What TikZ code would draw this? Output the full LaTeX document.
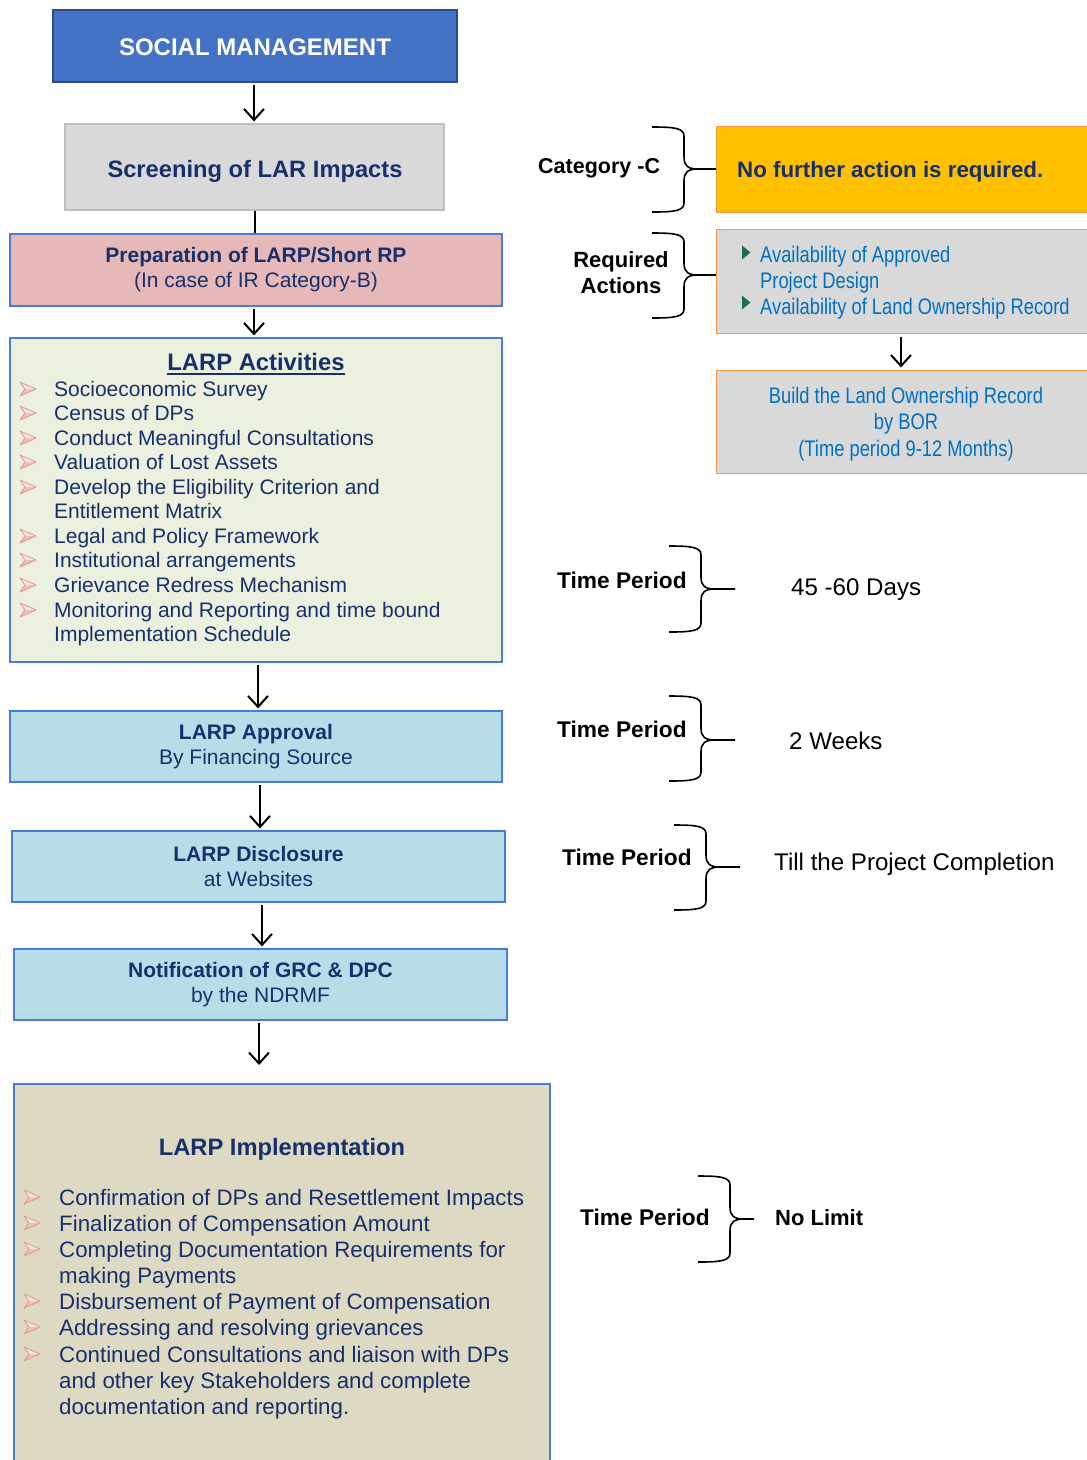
\documentclass[tikz,border=0pt]{standalone}
\usepackage{fontspec}
\setmainfont{Liberation Sans}
\newfontfamily\narrowfont[FakeStretch=0.815]{Liberation Sans}
\usetikzlibrary{arrows.meta}

\definecolor{socialblue}{HTML}{4472C4}
\definecolor{socialedge}{HTML}{2F4C8A}
\definecolor{screengray}{HTML}{D9D9D9}
\definecolor{screenedge}{HTML}{BFBFBF}
\definecolor{prepfill}{HTML}{E6B8B7}
\definecolor{actfill}{HTML}{EBF1DE}
\definecolor{stepfill}{HTML}{B7DEE8}
\definecolor{implfill}{HTML}{DDD9C3}
\definecolor{boxline}{HTML}{4A7BD6}
\definecolor{amber}{HTML}{FFC000}
\definecolor{orangeedge}{HTML}{F79646}
\definecolor{navy}{HTML}{172F6B}
\definecolor{linkblue}{HTML}{0070C0}
\definecolor{tealmark}{HTML}{1E6B5C}
\definecolor{bulletedge}{HTML}{E29A9A}
\definecolor{bulletlight}{HTML}{FBE6E6}
\definecolor{bulletdark}{HTML}{F0BFBF}

% curly brace: left x, spine x, top y, tip y, bottom y, end of the tip line
\newcommand\curlybrace[6]{%
  \draw[bracepen] (#1,#3) .. controls (#2-10,#3) and (#2,#3+1) .. (#2,#3+9)
     -- (#2,#4-12) .. controls (#2,#4-3) and (#2+4,#4) .. (#2+14,#4) -- (#6);
  \draw[bracepen] (#1,#5) .. controls (#2-10,#5) and (#2,#5-1) .. (#2,#5-9)
     -- (#2,#4+12) .. controls (#2,#4+3) and (#2+4,#4) .. (#2+14,#4);
}

\begin{document}
\begin{tikzpicture}[x=1pt,y=-1pt,
  flowbox/.style={draw=boxline, line width=1.2pt, inner sep=0pt, align=center,
    text=navy, font=\fontsize{21}{25}\selectfont},
  sidebox/.style={draw=orangeedge, line width=1pt, inner sep=0pt,
    minimum width=379pt},
  arr/.style={-{Straight Barb[length=11pt,width=20pt]}, line width=2pt, black,
    shorten <=2pt, shorten >=2pt},
  bracepen/.style={line width=1.6pt, black},
  actitem/.style={anchor=base west, inner sep=0pt, text=navy,
    font=\fontsize{21}{25}\selectfont},
  implitem/.style={anchor=base west, inner sep=0pt, text=navy,
    font=\fontsize{22.3}{26}\selectfont},
  sidelabel/.style={anchor=base west, inner sep=0pt, text=black,
    font=\bfseries\fontsize{22.7}{27}\selectfont},
  sidevalue/.style={anchor=base west, inner sep=0pt, text=black,
    font=\fontsize{24.1}{28}\selectfont},
  reqtext/.style={anchor=base west, inner sep=0pt, text=linkblue,
    font=\narrowfont\fontsize{22.5}{26}\selectfont},
  pinkbullet/.pic={
    \fill[bulletlight] (0,-7) -- (16,0) -- (5,0) -- cycle;
    \fill[bulletdark] (0,7) -- (16,0) -- (5,0) -- cycle;
    \draw[bulletedge, line width=0.9pt, line join=round]
      (0,-7) -- (16,0) -- (0,7) -- (5,0) -- cycle;
  }]

\clip (0,0) rectangle (1087,1460);
\fill[white] (0,0) rectangle (1087,1460);

% ---------- main flow ----------
\node[draw=socialedge, line width=2.6pt, fill=socialblue, minimum width=404pt,
  minimum height=72pt, inner sep=0pt, text=white,
  font=\bfseries\fontsize{24}{28}\selectfont] (sm) at (255,46) {};
\node[anchor=base, inner sep=0pt, text=white, font=\bfseries\fontsize{24}{28}\selectfont]
  (smtext) at (255,55) {SOCIAL MANAGEMENT};

\node[draw=screenedge, line width=1.2pt, fill=screengray, minimum width=379pt,
  minimum height=86pt, inner sep=0pt] (scr) at (254.5,167) {};
\node[anchor=base, inner sep=0pt, text=navy, font=\bfseries\fontsize{23.7}{28}\selectfont]
  (scrtext) at (255,177.5) {Screening of LAR Impacts};

\node[flowbox, fill=prepfill, minimum width=492pt, minimum height=72pt] (prep)
  at (256,270) {\textbf{Preparation of LARP/Short RP}\\(In case of IR Category-B)};

\node[flowbox, fill=actfill, minimum width=492pt, minimum height=324pt] (act) at (256,500) {};
\node[anchor=base, inner sep=0pt, text=navy, font=\bfseries\fontsize{23.8}{28}\selectfont]
  (acttitle) at (256,370) {LARP Activities};
\draw[navy, line width=2pt] ([yshift=-3.5pt]acttitle.base west) -- ([yshift=-3.5pt]acttitle.base east);

\foreach \yy/\txt/\b [count=\i] in {
  396/Socioeconomic Survey/1,
  420/Census of DPs/1,
  445/Conduct Meaningful Consultations/1,
  469/Valuation of Lost Assets/1,
  494/Develop the Eligibility Criterion and/1,
  518/Entitlement Matrix/0,
  543/Legal and Policy Framework/1,
  567/Institutional arrangements/1,
  592/Grievance Redress Mechanism/1,
  617/Monitoring and Reporting and time bound/1,
  641/Implementation Schedule/0}{
  \node[actitem] (acti\i) at (54,\yy) {\txt};
  \ifnum\b=1 \pic at (20,\yy-7) {pinkbullet}; \fi
}

\node[flowbox, fill=stepfill, minimum width=492pt, minimum height=71pt] (appr)
  at (256,746.5) {\textbf{LARP Approval}\\By Financing Source};
\node[flowbox, fill=stepfill, minimum width=493pt, minimum height=71pt] (disc)
  at (258.5,866.5) {\textbf{LARP Disclosure}\\at Websites};
\node[flowbox, fill=stepfill, minimum width=493pt, minimum height=71pt] (notif)
  at (260.5,984.5) {\textbf{Notification of GRC \& DPC}\\by the NDRMF};

\node[flowbox, fill=implfill, minimum width=536pt, minimum height=386pt] (impl) at (282,1277) {};
\node[anchor=base, inner sep=0pt, text=navy, font=\bfseries\fontsize{23.7}{28}\selectfont]
  (impltitle) at (282,1155) {LARP Implementation};

\foreach \yy/\txt/\b [count=\i] in {
  1205/Confirmation of DPs and Resettlement Impacts/1,
  1231/Finalization of Compensation Amount/1,
  1257/Completing Documentation Requirements for/1,
  1283/making Payments/0,
  1309/Disbursement of Payment of Compensation/1,
  1335/Addressing and resolving grievances/1,
  1362/Continued Consultations and liaison with DPs/1,
  1388/and other key Stakeholders and complete/0,
  1414/documentation and reporting./0}{
  \node[implitem] (impli\i) at (59,\yy) {\txt};
  \ifnum\b=1 \pic at (24,\yy-8) {pinkbullet}; \fi
}

% connectors of the main flow
\draw[arr] ([xshift=-1pt]sm.south) -- ([xshift=-1pt]sm.south |- scr.north);
\draw[line width=2pt] ([xshift=0.5pt]scr.south) -- ([xshift=0.5pt]scr.south |- prep.north);
\draw[arr] ([xshift=-2pt]prep.south) -- ([xshift=-2pt]prep.south |- act.north);
\draw[arr] ([xshift=2pt]act.south) -- ([xshift=2pt]act.south |- appr.north);
\draw[arr] ([xshift=4pt]appr.south) -- ([xshift=4pt]appr.south |- disc.north);
\draw[arr] ([xshift=3.5pt]disc.south) -- ([xshift=3.5pt]disc.south |- notif.north);
\coordinate (implin) at (259,1067);
\draw[arr] (notif.south -| implin) -- (implin);

% ---------- right column ----------
\node[sidebox, fill=amber, minimum height=86pt] (nofurther) at (905.5,169) {};
\node[anchor=base west, inner sep=0pt, text=navy, font=\bfseries\fontsize{22.3}{26}\selectfont]
  (nftext) at (737,177) {No further action is required.};

\node[sidebox, fill=screengray, minimum height=104pt] (reqbox) at (905.5,281) {};
\fill[tealmark] (742,245.5) -- (750.5,252.5) -- (742,259.5) -- cycle;
\fill[tealmark] (742,295.5) -- (750.5,302.5) -- (742,309.5) -- cycle;
\node[reqtext] (req1) at (760,262) {Availability of Approved};
\node[reqtext] (req2) at (760,288) {Project Design};
\node[reqtext] (req3) at (760,314) {Availability of Land Ownership Record};

\node[sidebox, fill=screengray, minimum height=103pt] (bor) at (905.5,421.5) {};
\node[inner sep=0pt, align=center, text=linkblue, font=\narrowfont\fontsize{22.5}{26.5}\selectfont]
  (bortext) at (906,424) {Build the Land Ownership Record\\by BOR\\(Time period 9-12 Months)};
\draw[arr, shorten <=3pt] ([xshift=-4.5pt]reqbox.south) -- ([xshift=-4.5pt]reqbox.south |- bor.north);

% braces with their labels
\node[anchor=base west, inner sep=0pt, text=black, font=\bfseries\fontsize{21.5}{26}\selectfont]
  (catc) at (538,173) {Category -C};
\coordinate (cattip) at (716,169);
\curlybrace{652}{684}{127}{169}{212}{cattip}

\node[inner sep=0pt, align=center, text=black, font=\bfseries\fontsize{22}{26}\selectfont]
  (reqlabel) at (621,273) {Required\\Actions};
\coordinate (reqtip) at (716,275);
\curlybrace{652}{684}{233}{275}{318}{reqtip}

\node[sidelabel] (tp1) at (557,588) {Time Period};
\coordinate (tp1tip) at (735,589);
\curlybrace{669}{701}{546}{589}{632}{tp1tip}
\node[sidevalue] (tp1val) at (791,595) {45 -60 Days};

\node[sidelabel] (tp2) at (557,737) {Time Period};
\coordinate (tp2tip) at (735,740);
\curlybrace{669}{701}{696}{740}{781}{tp2tip}
\node[sidevalue] (tp2val) at (789,749) {2 Weeks};

\node[sidelabel] (tp3) at (562,865) {Time Period};
\coordinate (tp3tip) at (740,867);
\curlybrace{674}{706}{825}{867}{910}{tp3tip}
\node[sidevalue] (tp3val) at (774,870) {Till the Project Completion};

\node[sidelabel] (tp4) at (580,1225) {Time Period};
\coordinate (tp4tip) at (754,1219);
\curlybrace{698}{730}{1176}{1219}{1262}{tp4tip}
\node[anchor=base west, inner sep=0pt, text=black, font=\bfseries\fontsize{22}{26}\selectfont]
  (tp4val) at (775,1225) {No Limit};

\end{tikzpicture}
\end{document}
